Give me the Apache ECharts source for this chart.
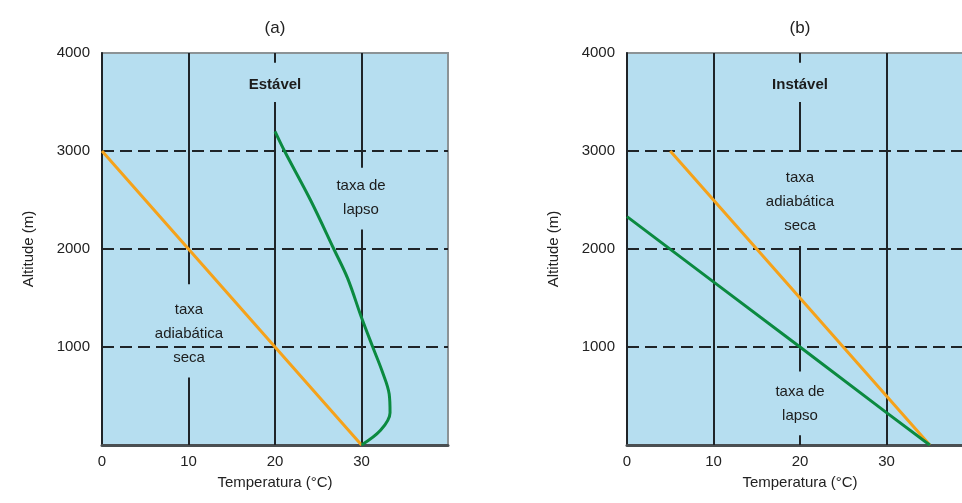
<!DOCTYPE html>
<html>
<head>
<meta charset="utf-8">
<script src="https://cdn.jsdelivr.net/npm/echarts@6/dist/echarts.min.js"></script>
<style>
  html, body { margin: 0; padding: 0; background: #fff; }
  #chart { width: 962px; height: 503px; }
</style>
</head>
<body>
<div id="chart"></div>
<script>
// tick labels
const tempTicks = [0, 10, 20, 30];
const altTicks = [1000, 2000, 3000, 4000];

// (a) estável
const secaA = [[0, 3000], [10, 2000], [20, 1000], [30, 0]];
const lapsoA = [[30, 0], [32.2, 150], [33.3, 330], [33.2, 520], [32.4, 750], [31.3, 1000],
  [30, 1300], [28.4, 1700], [26.8, 2000], [24.1, 2500], [21.1, 3000], [20, 3200]];

// (b) instável
const secaB = [[5, 3000], [10, 2500], [20, 1500], [30, 500], [35, 0]];
const lapsoB = [[0, 2330], [10, 1665], [20, 1000], [30, 330], [35, 0]];

const chart = echarts.init(document.getElementById('chart'));

const FONT = 'Liberation Sans';
const DARK = '#1f2428';

// vertical grid lines, with gaps where the labels sit
const vlinesA = [
  [10, 4000, 1640], [10, 690, 0],
  [20, 4000, 3900], [20, 3500, 0],
  [30, 4000, 2830], [30, 2200, 0]
];
const vlinesB = [
  [10, 4000, 0],
  [20, 4000, 3900], [20, 3500, 3000], [20, 2030, 750], [20, 100, 0],
  [30, 4000, 0]
];
function segs(list) {
  return list.map(s => [{coord: [s[0], s[1]]}, {coord: [s[0], s[2]]}]);
}

function xAx(idx) {
  return {
    type: 'value', gridIndex: idx, min: 0, max: 40, interval: 10,
    name: 'Temperatura (°C)', nameLocation: 'middle', nameGap: 30,
    nameTextStyle: {fontFamily: FONT, fontSize: 15, color: '#222'},
    axisLine: {show: true, lineStyle: {color: '#4a4f52', width: 3}},
    axisTick: {show: false},
    splitLine: {show: false},
    axisLabel: {
      fontFamily: FONT, fontSize: 15, color: '#222', margin: 9,
      formatter: v => tempTicks.includes(v) ? String(v) : ''
    }
  };
}
function yAx(idx) {
  return {
    type: 'value', gridIndex: idx, min: 0, max: 4000, interval: 1000,
    name: 'Altitude (m)', nameLocation: 'middle', nameGap: 66, nameRotate: 90,
    nameTextStyle: {fontFamily: FONT, fontSize: 15, color: '#222'},
    axisLine: {show: true, lineStyle: {color: DARK, width: 2}},
    axisTick: {show: false},
    splitLine: {show: true, showMinLine: false, showMaxLine: false,
      lineStyle: {color: DARK, width: 2, type: [12, 6]}},
    axisLabel: {
      fontFamily: FONT, fontSize: 15, color: '#222', margin: 12,
      formatter: v => altTicks.includes(v) ? String(v) : ''
    }
  };
}

function line(idx, data, color, smooth, vl) {
  const s = {
    type: 'line', xAxisIndex: idx, yAxisIndex: idx, data: data,
    showSymbol: false, smooth: smooth, silent: true, z: 5,
    lineStyle: {color: color, width: 3}
  };
  if (vl) {
    s.markLine = {
      silent: true, symbol: 'none', label: {show: false}, z: 2,
      lineStyle: {color: DARK, width: 2, type: 'solid'},
      data: segs(vl)
    };
  }
  return s;
}

function txt(x, y, text, bold) {
  return {
    type: 'text', x: x, y: y, z: 10,
    style: {
      text: text, fill: '#1c1c1c', align: 'center', verticalAlign: 'middle',
      font: (bold ? 'bold ' : '') + '15px ' + FONT, lineHeight: 24
    }
  };
}

chart.setOption({
  animation: false,
  backgroundColor: '#fff',
  grid: [
    {left: 102, top: 53, width: 346, height: 392, show: true, outerBoundsMode: 'none',
      containLabel: false,
      backgroundColor: '#b6def0', borderColor: '#8c9396', borderWidth: 2},
    {left: 627, top: 53, width: 346, height: 392, show: true, outerBoundsMode: 'none',
      containLabel: false,
      backgroundColor: '#b6def0', borderColor: '#8c9396', borderWidth: 2}
  ],
  xAxis: [xAx(0), xAx(1)],
  yAxis: [yAx(0), yAx(1)],
  series: [
    line(0, secaA, '#f5a21a', false, vlinesA),
    line(0, lapsoA, '#0b8a40', 0.35),
    line(1, secaB, '#f5a21a', false, vlinesB),
    line(1, lapsoB, '#0b8a40', false)
  ],
  graphic: [
    {type: 'text', x: 275, y: 28, style: {text: '(a)', font: '17px ' + FONT, fill: '#222', align: 'center', verticalAlign: 'middle'}},
    {type: 'text', x: 800, y: 28, style: {text: '(b)', font: '17px ' + FONT, fill: '#222', align: 'center', verticalAlign: 'middle'}},
    txt(275, 85, 'Estável', true),
    txt(361, 198, 'taxa de\nlapso'),
    txt(189, 334, 'taxa\nadiabática\nseca'),
    txt(800, 85, 'Instável', true),
    txt(800, 202, 'taxa\nadiabática\nseca'),
    txt(800, 404, 'taxa de\nlapso')
  ]
});
</script>
</body>
</html>
